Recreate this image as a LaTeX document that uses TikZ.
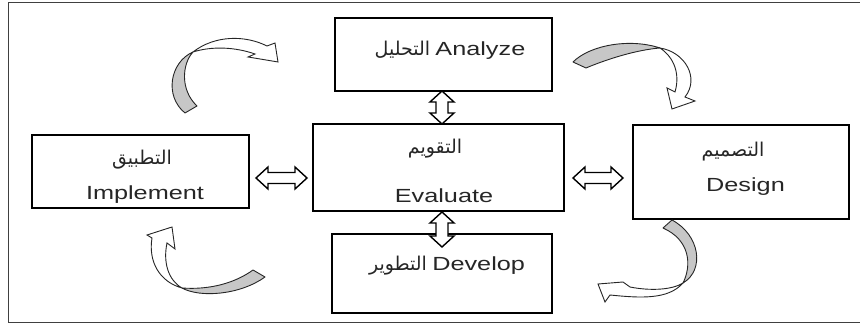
\documentclass[tikz,border=0pt]{standalone}
\usepackage{fontspec}
\setmainfont{Liberation Sans}
\newfontfamily\arabicfont[Script=Arabic]{DejaVu Sans}
\TeXXeTstate=1
\newcommand\lat[1]{\scalebox{1.33}[1]{#1}}
\newcommand\arb[1]{{\arabicfont\beginR #1\endR}}
\begin{document}
\begin{tikzpicture}[x=1pt,y=-1pt,
  box/.style={draw=black, line width=1.7pt, inner sep=0pt},
  lbl/.style={font=\fontsize{19}{19}\selectfont, text=black!85, inner sep=0pt, anchor=center},
  albl/.style={font=\fontsize{19}{19}\selectfont, text=black!85, inner sep=0pt, anchor=center},
  blk/.style={draw=black, line width=1.4pt, fill=white, line join=miter},
  cgray/.style={draw=black!85, line width=0.9pt, fill=black!22, line join=round},
  cwhite/.style={draw=black!85, line width=0.9pt, fill=white, line join=miter},
  frame/.style={draw=black!75, line width=1pt}
]
\useasboundingbox (0,0) rectangle (860,323);
\draw[frame] (8,3) rectangle (880,322);

% boxes
\node[box, minimum width=217pt, minimum height=73pt] (ana) at (443.5,54.5) {};
\node[box, minimum width=251pt, minimum height=87pt] (eva) at (438.5,167.5) {};
\node[box, minimum width=217pt, minimum height=73pt] (imp) at (140.5,171.5) {};
\node[box, minimum width=216pt, minimum height=94pt] (des) at (741,172) {};
\node[box, minimum width=220pt, minimum height=79pt] (dev) at (442,273.5) {};

% labels
\node[lbl] (anaT) at (450,50) {\arb{التحليل} \lat{Analyze}};
\node[albl] (evaA) at (435,149) {\arb{التقويم}};
\node[lbl] (evaT) at (444,196) {\lat{Evaluate}};
\node[albl] (impA) at (142,160) {\arb{التطبيق}};
\node[lbl] (impT) at (145,195) {\lat{Implement}};
\node[albl] (desA) at (733,152) {\arb{التصميم}};
\node[lbl] (desT) at (745.5,187) {\lat{Design}};
\node[lbl] (devT) at (447,266) {\arb{التطوير} \lat{Develop}};

% double block arrows (horizontal)
\draw[blk] (256,178) -- (268,167) -- (268,172.5) -- (295,172.5) -- (295,167) -- (307,178)
  -- (295,189) -- (295,183.5) -- (268,183.5) -- (268,189) -- cycle;
\draw[blk] (573,178) -- (585,167) -- (585,172.5) -- (611,172.5) -- (611,167) -- (623,178)
  -- (611,189) -- (611,183.5) -- (585,183.5) -- (585,189) -- cycle;
% double block arrows (vertical)
\draw[blk] (442,91) -- (454,102) -- (448,102) -- (448,113) -- (454,113) -- (442,124)
  -- (430,113) -- (436,113) -- (436,102) -- (430,102) -- cycle;
\draw[blk] (442,212) -- (454,223) -- (448,223) -- (448,236) -- (454,236) -- (442,247)
  -- (430,236) -- (436,236) -- (436,223) -- (430,223) -- cycle;

% curved arrow top-left
\draw[cgray] (185,113) .. controls (164,96) and (170,62) .. (193,52)
  .. controls (182,64) and (180,90) .. (197,106) -- cycle;
\draw[cwhite] (193,52) .. controls (215,35) and (245,35) .. (267,46) -- (275,43) -- (278,62)
  -- (248,57) -- (255,54) .. controls (235,47) and (212,46) .. (193,52) -- cycle;

% curved arrow top-right
\draw[cgray] (573,62) .. controls (590,45) and (630,38) .. (660,48)
  .. controls (635,50) and (605,60) .. (586,68) -- cycle;
\draw[cwhite] (660,48) .. controls (685,52) and (700,78) .. (685,97) -- (695,101) -- (672,109)
  -- (667,88) -- (675,92) .. controls (680,75) and (675,58) .. (660,48) -- cycle;

% curved arrow bottom-right
\draw[cgray] (672,220) .. controls (700,235) and (705,270) .. (683,283)
  .. controls (692,265) and (690,240) .. (663,228) -- cycle;
\draw[cwhite] (683,283) .. controls (668,300) and (640,298) .. (610,295) -- (605,302) -- (598,284)
  -- (623,282) -- (630,287) .. controls (650,291) and (672,290) .. (683,283) -- cycle;

% curved arrow bottom-left
\draw[cgray] (253,270) .. controls (235,283) and (210,290) .. (182,288)
  .. controls (200,298) and (240,295) .. (265,277) -- cycle;
\draw[cwhite] (182,288) .. controls (160,282) and (148,262) .. (152,238) -- (147,235) -- (172,227)
  -- (175,249) -- (167,243) .. controls (163,262) and (168,280) .. (182,288) -- cycle;
\end{tikzpicture}
\end{document}
